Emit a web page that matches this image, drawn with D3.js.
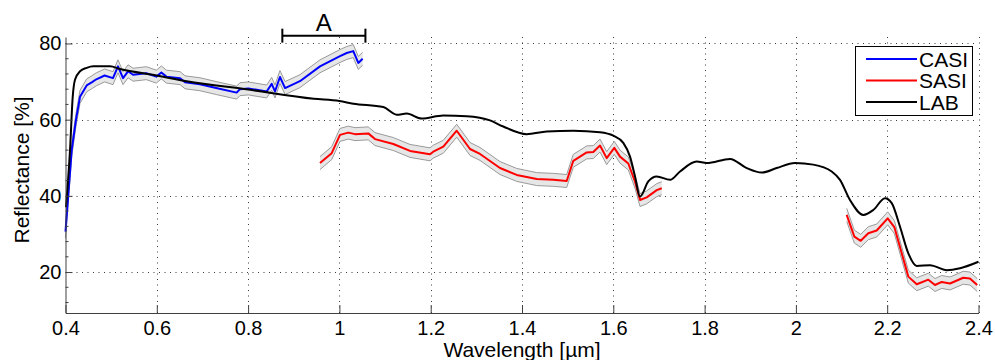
<!DOCTYPE html>
<html><head><meta charset="utf-8">
<script src="https://cdn.jsdelivr.net/npm/d3@7"></script>
<style>
body{margin:0;background:#fff}
svg{display:block}
text{font-family:"Liberation Sans",Arial,Helvetica,sans-serif;fill:#000}
</style>
</head><body>
<svg id="chart" width="995" height="360"></svg>
<script>
// ---------- data ----------
const xTicks = [0.4,0.6,0.8,1.0,1.2,1.4,1.6,1.8,2.0,2.2,2.4];
const xTickLabels = ["0.4","0.6","0.8","1","1.2","1.4","1.6","1.8","2","2.2","2.4"];
const yTicks = [20,40,60,80];
const yTickLabels = ["20","40","60","80"];
const seriesNames = ["CASI","SASI","LAB"];
const seriesColors = ["#0000ff","#ff0000","#000000"];

const labWl  = [0.401,0.4099,0.4158,0.4208,0.4318,0.4464,0.4609,0.4975,0.5194,0.5998,0.6655,0.8004,0.944,1.0,1.0305,1.0962,1.1255,1.1474,1.1803,1.2276,1.2789,1.3299,1.359,1.4103,1.4541,1.5124,1.5709,1.6,1.6219,1.6366,1.6476,1.6585,1.6767,1.6951,1.7243,1.7462,1.7827,1.8046,1.8557,1.8922,1.9251,1.9579,1.998,2.0381,2.0784,2.0966,2.1185,2.1477,2.1696,2.1952,2.2099,2.2281,2.2463,2.2647,2.2938,2.3304,2.3596,2.4];
const labVal = [37,52,66,70.5,72.7,73.6,74.0,74.0,73.3,71.6,70.1,67.9,65.5,64.9,64.2,63.3,61.3,61.6,60.3,61.1,60.9,59.8,58.2,56.2,56.9,57.1,56.7,55.8,53.9,50.3,45.1,39.8,43.8,45.1,44.2,46.4,49.0,48.6,49.7,47.3,46.1,47.3,48.6,48.2,46.4,44.2,38.9,35.0,36.3,39.4,38.1,31.9,24.9,21.6,21.8,20.5,21.0,22.7];

const casiWl  = [0.400,0.4136,0.423,0.4318,0.4464,0.4574,0.4675,0.4857,0.504,0.515,0.526,0.537,0.548,0.577,0.599,0.610,0.621,0.651,0.662,0.6945,0.73,0.775,0.782,0.8004,0.8407,0.8517,0.8589,0.8698,0.881,0.9135,0.9575,1.0013,1.016,1.0304,1.0414,1.051];
const casiVal = [30.6,52,60,66,69.0,69.8,70.6,71.6,70.9,74.0,70.9,72.7,71.8,72.2,71.3,72.4,71.3,70.9,69.8,69.3,68.3,67.1,68.0,68.2,67.4,69.4,67.4,71.2,68.3,70.1,74.0,76.7,77.5,78.0,74.9,76.0];

const sasi1Wl  = [0.9575,0.9831,1.0013,1.0195,1.0342,1.0633,1.078,1.1181,1.1547,1.1985,1.2057,1.2276,1.257,1.2861,1.308,1.3518,1.3884,1.4322,1.4686,1.4979,1.5124,1.5417,1.5562,1.5709,1.5855,1.6022,1.6147,1.6329,1.6476,1.6585,1.6732,1.6951,1.7061];
const sasi1Val = [48.6,51.2,56.0,56.6,56.2,56.4,54.9,53.6,51.8,50.9,51.6,52.9,57.1,52.3,51.0,47.3,45.5,44.4,44.2,43.9,49.2,51.4,51.5,53.2,49.9,52.6,50.3,48.5,43.7,38.9,39.6,41.5,42.0];

const sasi2Wl  = [2.1113,2.128,2.142,2.1586,2.177,2.2011,2.2156,2.2463,2.2647,2.2901,2.3047,2.3194,2.3376,2.3665,2.3812,2.3972];
const sasi2Val = [35.0,29.3,28.2,30.2,30.9,34.1,31.8,18.8,16.8,18.0,16.6,17.4,17.0,18.5,18.3,16.6];

const bandHalf = 1.7;            // +/- uncertainty of the airborne spectra (%)
const annotA = {label:"A", from:0.875, to:1.057, level:82.05};

// ---------- layout ----------
const svg = d3.select("#chart");
const x = d3.scaleLinear().domain([0.4,2.4]).range([65.5,978.5]);
const y = d3.scaleLinear().domain([9.25,81.7]).range([313,37]);
const [X0,X1] = x.range(), [Y0,Y1] = y.range();

const zip = (a,b)=>a.map((d,i)=>({wl:d,v:b[i]}));
const lab = zip(labWl,labVal), casi = zip(casiWl,casiVal), sasi1 = zip(sasi1Wl,sasi1Val), sasi2 = zip(sasi2Wl,sasi2Val);

// grid
const grid = svg.append("g").attr("stroke","#3a3a3a").attr("stroke-width",1).attr("stroke-dasharray","1,4.5");
grid.selectAll(".gx").data(xTicks.slice(1)).join("line")
  .attr("x1",d=>Math.round(x(d))+0.5).attr("x2",d=>Math.round(x(d))+0.5).attr("y1",Y1).attr("y2",Y0);
grid.selectAll(".gy").data(yTicks).join("line")
  .attr("x1",X0).attr("x2",X1).attr("y1",d=>Math.round(y(d))+0.5).attr("y2",d=>Math.round(y(d))+0.5);

// bands
function band(data){
  svg.append("path").datum(data)
    .attr("d",d3.area().x(d=>x(d.wl)).y0(d=>y(d.v-bandHalf)).y1(d=>y(d.v+bandHalf)))
    .attr("fill","#e6e6e6").attr("stroke","none");
  [-bandHalf,bandHalf].forEach(o=>{
    svg.append("path").datum(data)
      .attr("d",d3.line().x(d=>x(d.wl)).y(d=>y(d.v+o)))
      .attr("fill","none").attr("stroke","#9a9a9a").attr("stroke-width",1);
  });
}
band(casi); band(sasi1); band(sasi2);

const line = d3.line().x(d=>x(d.wl)).y(d=>y(d.v));
svg.append("path").datum(casi).attr("d",line).attr("fill","none").attr("stroke",seriesColors[0]).attr("stroke-width",2).attr("stroke-linejoin","round");
[sasi1,sasi2].forEach(s=>svg.append("path").datum(s).attr("d",line).attr("fill","none").attr("stroke",seriesColors[1]).attr("stroke-width",2).attr("stroke-linejoin","round"));
svg.append("path").datum(lab).attr("d",d3.line().x(d=>x(d.wl)).y(d=>y(d.v)).curve(d3.curveMonotoneX))
  .attr("fill","none").attr("stroke",seriesColors[2]).attr("stroke-width",2);

// axes
const xAxis = d3.axisBottom(x).tickValues(xTicks).tickFormat((d,i)=>xTickLabels[i])
  .tickSizeInner(-8).tickSizeOuter(0).tickPadding(8);
const gx = svg.append("g").attr("transform",`translate(0,${Y0})`).call(xAxis);
gx.selectAll("text").attr("font-size",20).attr("font-family","Liberation Sans, Arial, sans-serif").attr("fill","#000");

const yAxis = d3.axisLeft(y).tickValues(yTicks).tickFormat((d,i)=>yTickLabels[i])
  .tickSizeInner(-7).tickSizeOuter(0).tickPadding(4);
const gy = svg.append("g").attr("transform",`translate(${X0},0)`).call(yAxis);
gy.selectAll("text").attr("font-size",20).attr("font-family","Liberation Sans, Arial, sans-serif").attr("fill","#000");

// y minor ticks
const minor = d3.range(12,81,4).filter(v=>v%20!==0);
gy.selectAll(".minor").data(minor).join("line")
  .attr("x1",0).attr("x2",3).attr("y1",d=>y(d)).attr("y2",d=>y(d)).attr("stroke","#404040");

[gx,gy].forEach(g=>{g.selectAll("path,line").attr("stroke","#404040");});

// axis labels
svg.append("text").attr("x",(X0+X1)/2).attr("y",356.5).attr("text-anchor","middle").attr("font-size",21).text("Wavelength [µm]");
svg.append("text").attr("transform",`translate(29,${(Y0+Y1)/2-5}) rotate(-90)`).attr("text-anchor","middle").attr("font-size",21).text("Reflectance [%]");

// annotation A
const ya = y(annotA.level);
const ann = svg.append("g").attr("stroke","#000").attr("stroke-width",2);
ann.append("line").attr("x1",x(annotA.from)).attr("x2",x(annotA.to)).attr("y1",ya).attr("y2",ya);
ann.append("line").attr("x1",x(annotA.from)).attr("x2",x(annotA.from)).attr("y1",ya-7).attr("y2",ya+7);
ann.append("line").attr("x1",x(annotA.to)).attr("x2",x(annotA.to)).attr("y1",ya-7).attr("y2",ya+7);
svg.append("text").attr("x",(x(annotA.from)+x(annotA.to))/2).attr("y",ya-5).attr("text-anchor","middle").attr("font-size",24).text(annotA.label);

// legend
const lg = svg.append("g");
lg.append("rect").attr("x",855.5).attr("y",46.5).attr("width",117).attr("height",69).attr("fill","#fff").attr("stroke","#000").attr("stroke-width",1);
seriesNames.forEach((n,i)=>{
  const yy = 59 + i*21.5;
  lg.append("line").attr("x1",866).attr("x2",917).attr("y1",yy).attr("y2",yy).attr("stroke",seriesColors[i]).attr("stroke-width",2);
  lg.append("text").attr("x",919).attr("y",yy+7.5).attr("font-size",21).text(n);
});
</script>
</body></html>
